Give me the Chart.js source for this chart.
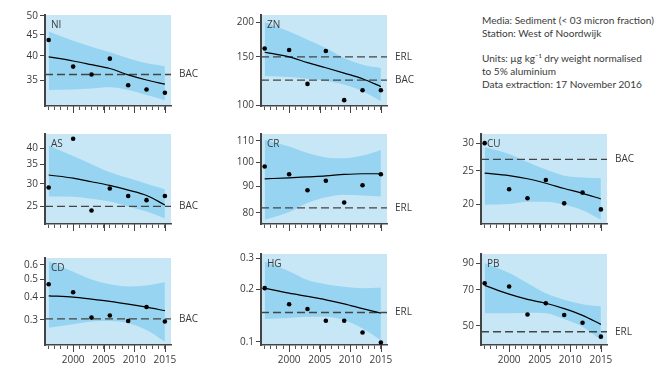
<!DOCTYPE html>
<html>
<head>
<meta charset="utf-8">
<script src="https://cdn.jsdelivr.net/npm/chart.js@4.4.0/dist/chart.umd.js"></script>
<style>
  body { margin: 0; background: #fff; width: 658px; height: 369px; overflow: hidden; position: relative; }
  #info { position: absolute; left: 482px; top: 14px; font-family: Lato, sans-serif; font-size: 10px; color: #3a3a3a; line-height: 12.8px; white-space: nowrap; }
</style>
</head>
<body>
<div id="info">
  Media: Sediment (&lt; 03 micron fraction)<br>
  Station: West of Noordwijk<br>
  <br>
  Units: µg kg⁻¹ dry weight normalised<br>
  to 5% aluminium<br>
  Data extraction: 17 November 2016
</div>
<script>
// sampling years (shared by all panels)
const years = [1996, 2000, 2003, 2006, 2009, 2012, 2015];
const xTicks = [1996, 1997, 1998, 1999, 2000, 2001, 2002, 2003, 2004, 2005,
                2006, 2007, 2008, 2009, 2010, 2011, 2012, 2013, 2014, 2015];

// NI
const niObs   = [43.7, 37.7, 36.1, 39.4, 34.0, 33.2, 32.6];
const niTrend = [39.8, 38.9, 38.1, 37.3, 36.0, 35.0, 34.2];
const niUpper = [45.8, 43.5, 42.1, 40.8, 39.5, 38.4, 37.8];
const niLower = [33.1, 33.2, 33.4, 33.6, 33.1, 32.2, 31.3];
const niTicks = [35, 40, 45, 50];
// ZN
const znObs   = [161, 159, 119.7, 157.6, 104.5, 113.5, 113.5];
const znTrend = [156, 150, 143, 137, 131, 125, 117];
const znUpper = [201, 185.5, 173, 161.6, 148.6, 140.6, 136.7];
const znLower = [128, 126.9, 125, 123, 119, 112.6, 103.7];
const znTicks = [100, 150, 200];
// AS
const asObs   = [29.1, 43.1, 24.2, 28.9, 27.2, 26.3, 27.2];
const asTrend = [32.2, 31.4, 30.5, 29.6, 28.5, 27.3, 25.3];
const asUpper = [40.8, 37.5, 35.1, 32.9, 31.4, 30.0, 28.7];
const asLower = [27.1, 27.0, 26.6, 26.0, 25.0, 24.0, 22.7];
const asTicks = [25, 30, 35, 40];
// CR
const crObs   = [98.2, 94.9, 88.4, 92.2, 83.8, 90.4, 94.9];
const crTrend = [93.0, 93.4, 93.8, 94.2, 94.8, 95.1, 95.1];
const crUpper = [110.5, 107.2, 104.2, 102.2, 101.8, 103.0, 105.6];
const crLower = [77.6, 80.3, 83.6, 85.7, 86.7, 86.4, 86.0];
const crTicks = [80, 90, 100, 110];
// CU
const cuObs   = [30.1, 22.1, 20.8, 23.5, 20.1, 21.6, 19.3];
const cuTrend = [24.6, 24.2, 23.7, 23.0, 22.2, 21.5, 20.7];
const cuUpper = [29.3, 28.0, 26.5, 25.2, 24.2, 23.9, 23.8];
const cuLower = [19.9, 20.0, 20.3, 20.3, 19.9, 19.2, 18.0];
const cuTicks = [20, 25, 30];
// CD
const cdObs   = [0.47, 0.425, 0.309, 0.317, 0.296, 0.353, 0.294];
const cdTrend = [0.406, 0.4, 0.39, 0.379, 0.366, 0.352, 0.337];
const cdUpper = [0.626, 0.55, 0.499, 0.47, 0.457, 0.463, 0.482];
const cdLower = [0.272, 0.284, 0.294, 0.296, 0.288, 0.264, 0.228];
const cdTicks = [0.3, 0.4, 0.5, 0.6];
// HG
const hgObs   = [0.203, 0.164, 0.154, 0.132, 0.132, 0.113, 0.099];
const hgTrend = [0.203, 0.19, 0.182, 0.174, 0.165, 0.155, 0.146];
const hgUpper = [0.289, 0.254, 0.226, 0.214, 0.207, 0.203, 0.205];
const hgLower = [0.135, 0.137, 0.139, 0.139, 0.133, 0.119, 0.102];
const hgTicks = [0.1, 0.2, 0.3];
// PB
const pbObs   = [74.5, 72.2, 55.5, 61.7, 55.3, 51.4, 45.1];
const pbTrend = [73, 67.2, 64, 61.7, 58.7, 55.1, 50.6];
const pbUpper = [90, 82, 74.5, 67.8, 63.8, 61.2, 60];
const pbLower = [56.2, 56.2, 56.5, 56.2, 53.2, 49.5, 43.8];
const pbTicks = [50, 70, 90];

// assessment criteria
const niRefs = [{ label: 'BAC', value: 36.1 }];
const znRefs = [{ label: 'ERL', value: 150 }, { label: 'BAC', value: 123.5 }];
const asRefs = [{ label: 'BAC', value: 25 }];
const crRefs = [{ label: 'ERL', value: 81.8 }];
const cuRefs = [{ label: 'BAC', value: 27 }];
const cdRefs = [{ label: 'BAC', value: 0.304 }];
const hgRefs = [{ label: 'ERL', value: 0.147 }];
const pbRefs = [{ label: 'ERL', value: 47.2 }];

const xMin = 1995.4, xMax = 2016;
const bgColor = '#c7e7f7';
const bandColor = '#96d4f1';
const inkColor = '#3a3a3a';

Chart.defaults.font.family = '"Open Sans", sans-serif';
Chart.defaults.font.size = 10;
Chart.defaults.color = inkColor;

// fit the info block to the width it has in the original (about 172px)
(() => {
  const info = document.getElementById('info');
  const c = document.createElement('canvas').getContext('2d');
  c.font = '10px Lato';
  const w = c.measureText('Media: Sediment (< 03 micron fraction)').width;
  if (w > 0) info.style.fontSize = (10 * 172 / w).toFixed(2) + 'px';
})();

// page layout of the plot areas
const colLeft = [45, 261, 481];
const plotW = 126;
const rowBottom = [106, 224, 345];

const panels = [
  { name: 'NI', col: 0, row: 0, top: 15,  obs: niObs, trend: niTrend, upper: niUpper, lower: niLower, ticks: niTicks, yMin: 30.3,  yMax: 50.2,  refs: niRefs },
  { name: 'ZN', col: 1, row: 0, top: 15,  obs: znObs, trend: znTrend, upper: znUpper, lower: znLower, ticks: znTicks, yMin: 99.5,  yMax: 213,   refs: znRefs },
  { name: 'AS', col: 0, row: 1, top: 134, obs: asObs, trend: asTrend, upper: asUpper, lower: asLower, ticks: asTicks, yMin: 21.7,  yMax: 44.8,  refs: asRefs },
  { name: 'CR', col: 1, row: 1, top: 134, obs: crObs, trend: crTrend, upper: crUpper, lower: crLower, ticks: crTicks, yMin: 76.2,  yMax: 113.3, refs: crRefs },
  { name: 'CU', col: 2, row: 1, top: 134, obs: cuObs, trend: cuTrend, upper: cuUpper, lower: cuLower, ticks: cuTicks, yMin: 17.5,  yMax: 32,    refs: cuRefs },
  { name: 'CD', col: 0, row: 2, top: 258, obs: cdObs, trend: cdTrend, upper: cdUpper, lower: cdLower, ticks: cdTicks, yMin: 0.219, yMax: 0.653, refs: cdRefs },
  { name: 'HG', col: 1, row: 2, top: 254, obs: hgObs, trend: hgTrend, upper: hgUpper, lower: hgLower, ticks: hgTicks, yMin: 0.0957, yMax: 0.319, refs: hgRefs },
  { name: 'PB', col: 2, row: 2, top: 254, obs: pbObs, trend: pbTrend, upper: pbUpper, lower: pbLower, ticks: pbTicks, yMin: 41.7,  yMax: 98,    refs: pbRefs }
];

// background, panel name, criteria labels, long ticks every 5 years
const panelDecor = {
  id: 'panelDecor',
  beforeDraw(chart) {
    const a = chart.chartArea, ctx = chart.ctx;
    ctx.save();
    ctx.fillStyle = bgColor;
    ctx.fillRect(a.left, a.top, a.right - a.left, a.bottom - a.top);
    ctx.restore();
  },
  afterDraw(chart, args, opts) {
    const a = chart.chartArea, ctx = chart.ctx;
    const xs = chart.scales.x, ys = chart.scales.y;
    ctx.save();
    ctx.fillStyle = inkColor;
    ctx.font = '10px "Open Sans", sans-serif';
    ctx.textBaseline = 'middle';
    ctx.textAlign = 'left';
    ctx.fillText(opts.name, a.left + 6, a.top + 10);
    opts.refs.forEach(r => {
      ctx.fillText(r.label, a.right + 8, ys.getPixelForValue(r.value));
    });
    ctx.strokeStyle = '#444';
    ctx.lineWidth = 1;
    xTicks.filter(v => v % 5 === 0).forEach(v => {
      const px = Math.round(xs.getPixelForValue(v)) + 0.5;
      ctx.beginPath();
      ctx.moveTo(px, a.bottom);
      ctx.lineTo(px, a.bottom + 7);
      ctx.stroke();
    });
    ctx.restore();
  }
};

function makePanel(p) {
  const padL = 40, padR = 45, padT = 8, axH = 22;
  const L = colLeft[p.col], T = p.top, B = rowBottom[p.row];
  const w = plotW + padL + padR, h = B - T + padT + axH;
  const canvas = document.createElement('canvas');
  canvas.width = w;
  canvas.height = h;
  canvas.style.cssText = `position:absolute;left:${L - padL}px;top:${T - padT}px;width:${w}px;height:${h}px`;
  document.body.appendChild(canvas);

  const pts = arr => years.map((x, i) => ({ x: x, y: arr[i] }));
  const refSets = p.refs.map(r => ({
    data: [{ x: xMin, y: r.value }, { x: xMax, y: r.value }],
    borderColor: '#444', borderWidth: 1.4, borderDash: [8, 4],
    pointRadius: 0, fill: false
  }));
  const smooth = { cubicInterpolationMode: 'monotone', pointRadius: 0 };

  new Chart(canvas.getContext('2d'), {
    type: 'line',
    data: {
      datasets: [
        { data: pts(p.obs), showLine: false, pointRadius: 2.3, pointBackgroundColor: '#000', pointBorderWidth: 0 },
        { data: pts(p.trend), borderColor: '#000', borderWidth: 1.2, fill: false, ...smooth },
        ...refSets,
        { data: pts(p.upper), borderWidth: 0, borderColor: bandColor, backgroundColor: bandColor, fill: '+1', ...smooth },
        { data: pts(p.lower), borderWidth: 0, borderColor: bandColor, fill: false, ...smooth }
      ]
    },
    options: {
      responsive: false,
      animation: false,
      devicePixelRatio: 1,
      layout: { padding: { top: padT, right: padR, left: 0, bottom: 0 } },
      plugins: {
        legend: { display: false },
        tooltip: { enabled: false },
        panelDecor: { name: p.name, refs: p.refs }
      },
      scales: {
        x: {
          type: 'linear', min: xMin, max: xMax,
          afterBuildTicks: s => { s.ticks = xTicks.map(v => ({ value: v })); },
          afterFit: s => { s.height = axH; },
          ticks: {
            autoSkip: false, maxRotation: 0, padding: 5,
            callback: v => (p.row === 2 && v % 5 === 0) ? String(v) : ''
          },
          grid: { drawOnChartArea: false, tickLength: 4, tickColor: '#555' },
          border: { color: '#444', width: 1.5 }
        },
        y: {
          type: 'logarithmic', min: p.yMin, max: p.yMax,
          afterBuildTicks: s => { s.ticks = p.ticks.map(v => ({ value: v })); },
          afterFit: s => { s.width = padL; },
          ticks: { padding: 2, callback: v => String(v) },
          grid: { drawOnChartArea: false, tickLength: 5, tickColor: '#444' },
          border: { color: '#444', width: 2 }
        }
      }
    },
    plugins: [panelDecor]
  });
}

panels.forEach(makePanel);
</script>
</body>
</html>
